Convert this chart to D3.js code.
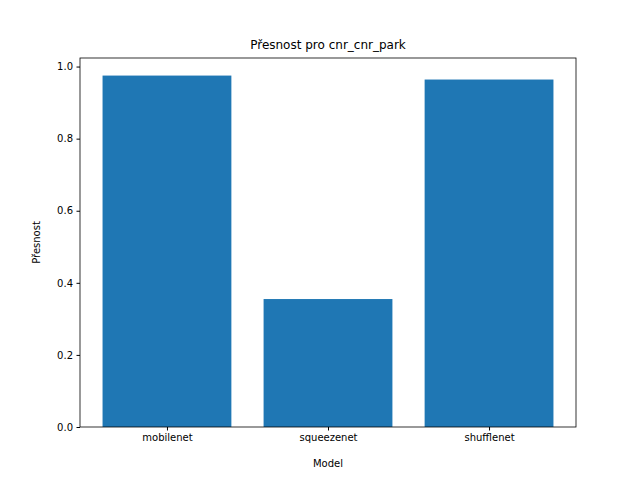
<!DOCTYPE html>
<html>
<head>
<meta charset="utf-8">
<script src="https://cdn.jsdelivr.net/npm/d3@7"></script>
<style>
  body { margin: 0; background: #fff; }
  text { font-family: "DejaVu Sans", sans-serif; }
</style>
</head>
<body>
<div id="wrapper"></div>
<script>
const models = ["mobilenet", "squeezenet", "shufflenet"];
const accuracy = [0.975, 0.355, 0.964];
const yTicks = [0, 0.2, 0.4, 0.6, 0.8, 1.0];

const dimensions = {
    width: 640,
    height: 480,
    margin: { top: 58, right: 64, bottom: 53, left: 80 }
};
dimensions.boundedWidth = dimensions.width - dimensions.margin.left - dimensions.margin.right;
dimensions.boundedHeight = dimensions.height - dimensions.margin.top - dimensions.margin.bottom;

const svg = d3.select("#wrapper").append("svg")
    .attr("width", dimensions.width)
    .attr("height", dimensions.height);

const bounds = svg.append("g")
    .attr("transform", `translate(${dimensions.margin.left},${dimensions.margin.top})`);

// matplotlib-like limits: bars width 0.8, 5% margins
const xScale = d3.scaleLinear()
    .domain([-0.54, 2.54])
    .range([0, dimensions.boundedWidth]);

const yMax = d3.max(accuracy) * 1.05;
const yScale = d3.scaleLinear()
    .domain([0, yMax])
    .range([dimensions.boundedHeight, 0]);

bounds.selectAll("rect.bar")
    .data(accuracy)
    .join("rect")
    .attr("class", "bar")
    .attr("x", (d, i) => xScale(i - 0.4))
    .attr("width", xScale(0.8) - xScale(0))
    .attr("y", d => yScale(d))
    .attr("height", d => yScale(0) - yScale(d))
    .attr("fill", "#1f77b4");

const xAxis = bounds.append("g")
    .attr("transform", `translate(0,${dimensions.boundedHeight})`)
    .call(d3.axisBottom(xScale)
        .tickValues(d3.range(models.length))
        .tickFormat(i => models[i])
        .tickSize(3.5).tickPadding(3.5));

const yAxis = bounds.append("g")
    .call(d3.axisLeft(yScale)
        .tickValues(yTicks)
        .tickFormat(d3.format(".1f"))
        .tickSize(3.5).tickPadding(3.5));

[xAxis, yAxis].forEach(a => {
    a.select(".domain").remove();
    a.selectAll("text").style("font-size", "10px").attr("fill", "#000");
    a.selectAll("line").attr("stroke", "#000");
});

bounds.append("rect")
    .attr("width", dimensions.boundedWidth)
    .attr("height", dimensions.boundedHeight)
    .attr("fill", "none")
    .attr("stroke", "#000")
    .attr("stroke-width", 0.8);

svg.append("text")
    .attr("x", dimensions.margin.left + dimensions.boundedWidth / 2)
    .attr("y", 49)
    .attr("text-anchor", "middle")
    .style("font-size", "12px")
    .text("Přesnost pro cnr_cnr_park");

svg.append("text")
    .attr("x", dimensions.margin.left + dimensions.boundedWidth / 2)
    .attr("y", 467)
    .attr("text-anchor", "middle")
    .style("font-size", "10px")
    .text("Model");

svg.append("text")
    .attr("transform", `translate(40,${dimensions.margin.top + dimensions.boundedHeight / 2}) rotate(-90)`)
    .attr("text-anchor", "middle")
    .style("font-size", "10px")
    .text("Přesnost");
</script>
</body>
</html>
